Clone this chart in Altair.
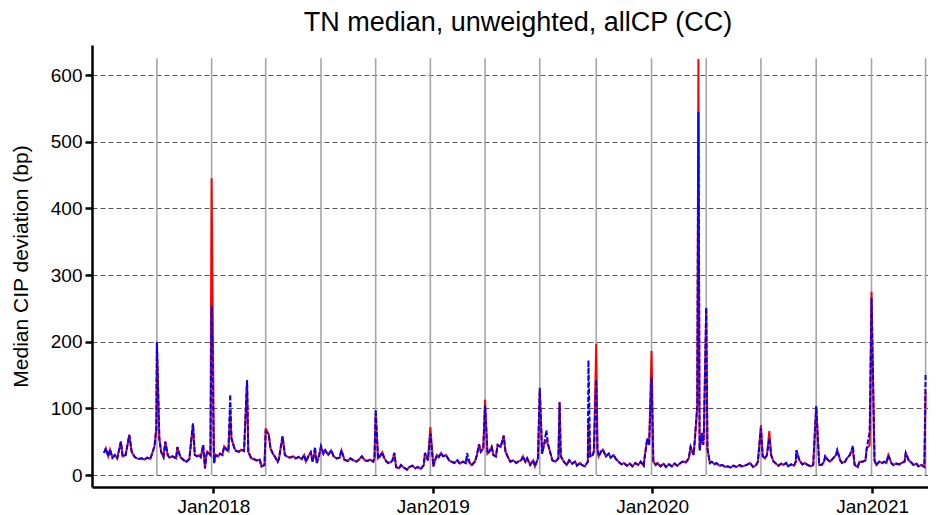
import altair as alt
import pandas as pd

# ---- series (red = solid line) ----
dates = [
    "2017-07-03", "2017-07-06", "2017-07-10", "2017-07-13", "2017-07-17", "2017-07-21", "2017-07-25", "2017-07-31",
    "2017-08-03", "2017-08-08", "2017-08-14", "2017-08-18", "2017-08-23", "2017-08-29", "2017-09-04", "2017-09-08",
    "2017-09-13", "2017-09-18", "2017-09-25", "2017-09-28", "2017-09-29",
    "2017-10-03", "2017-10-06", "2017-10-10", "2017-10-13", "2017-10-17", "2017-10-20", "2017-10-25", "2017-10-31",
    "2017-11-02", "2017-11-07", "2017-11-13", "2017-11-17", "2017-11-22", "2017-11-28", "2017-12-01", "2017-12-05",
    "2017-12-08", "2017-12-11", "2017-12-15", "2017-12-18", "2017-12-20", "2017-12-22", "2017-12-27", "2017-12-29",
    "2018-01-02", "2018-01-05", "2018-01-09", "2018-01-12", "2018-01-16", "2018-01-19", "2018-01-23", "2018-01-26",
    "2018-01-29", "2018-01-31", "2018-02-05", "2018-02-08", "2018-02-13", "2018-02-16", "2018-02-21", "2018-02-26",
    "2018-02-28", "2018-03-05", "2018-03-09", "2018-03-14", "2018-03-19", "2018-03-22", "2018-03-27", "2018-03-29",
    "2018-04-03", "2018-04-06", "2018-04-10", "2018-04-13", "2018-04-18", "2018-04-20", "2018-04-26", "2018-04-30",
    "2018-05-03", "2018-05-08", "2018-05-14", "2018-05-18", "2018-05-23", "2018-05-28", "2018-06-01", "2018-06-04",
    "2018-06-08", "2018-06-12", "2018-06-15", "2018-06-19", "2018-06-22", "2018-06-26", "2018-06-29",
    "2018-07-03", "2018-07-06", "2018-07-11", "2018-07-16", "2018-07-20", "2018-07-25", "2018-07-30", "2018-08-02",
    "2018-08-07", "2018-08-13", "2018-08-17", "2018-08-22", "2018-08-27", "2018-08-31", "2018-09-05", "2018-09-10",
    "2018-09-14", "2018-09-19", "2018-09-24", "2018-09-26", "2018-09-28",
    "2018-10-02", "2018-10-05", "2018-10-09", "2018-10-12", "2018-10-16", "2018-10-19", "2018-10-24", "2018-10-26",
    "2018-10-29", "2018-11-01", "2018-11-06", "2018-11-09", "2018-11-14", "2018-11-19", "2018-11-23", "2018-11-28",
    "2018-12-03", "2018-12-07", "2018-12-12", "2018-12-17", "2018-12-19", "2018-12-24", "2018-12-28",
    "2019-01-02", "2019-01-04", "2019-01-08", "2019-01-11", "2019-01-15", "2019-01-18", "2019-01-23", "2019-01-28",
    "2019-02-01", "2019-02-06", "2019-02-11", "2019-02-15", "2019-02-20", "2019-02-25", "2019-02-27", "2019-03-04",
    "2019-03-07", "2019-03-12", "2019-03-15", "2019-03-19", "2019-03-22", "2019-03-26", "2019-03-29",
    "2019-04-02", "2019-04-05", "2019-04-09", "2019-04-12", "2019-04-16", "2019-04-19", "2019-04-24", "2019-04-29",
    "2019-05-02", "2019-05-07", "2019-05-10", "2019-05-15", "2019-05-20", "2019-05-23", "2019-05-28", "2019-05-31",
    "2019-06-04", "2019-06-07", "2019-06-12", "2019-06-17", "2019-06-20", "2019-06-25", "2019-06-28",
    "2019-07-02", "2019-07-05", "2019-07-09", "2019-07-12", "2019-07-16", "2019-07-19", "2019-07-24", "2019-07-29",
    "2019-07-31", "2019-08-02", "2019-08-07", "2019-08-12", "2019-08-16", "2019-08-21", "2019-08-26", "2019-08-29",
    "2019-09-03", "2019-09-06", "2019-09-11", "2019-09-16", "2019-09-17", "2019-09-20", "2019-09-24", "2019-09-26",
    "2019-09-30",
    "2019-10-02", "2019-10-04", "2019-10-08", "2019-10-11", "2019-10-16", "2019-10-21", "2019-10-24", "2019-10-29",
    "2019-11-01", "2019-11-06", "2019-11-11", "2019-11-15", "2019-11-20", "2019-11-25", "2019-11-29", "2019-12-04",
    "2019-12-09", "2019-12-13", "2019-12-18", "2019-12-20", "2019-12-24", "2019-12-27", "2019-12-31",
    "2020-01-03", "2020-01-07", "2020-01-10", "2020-01-15", "2020-01-20", "2020-01-24", "2020-01-29", "2020-02-03",
    "2020-02-07", "2020-02-12", "2020-02-17", "2020-02-21", "2020-02-26", "2020-03-02", "2020-03-05", "2020-03-10",
    "2020-03-12", "2020-03-16", "2020-03-18", "2020-03-20", "2020-03-24", "2020-03-26", "2020-03-27", "2020-03-31",
    "2020-04-02", "2020-04-06", "2020-04-09", "2020-04-14", "2020-04-17", "2020-04-22", "2020-04-27", "2020-05-01",
    "2020-05-06", "2020-05-11", "2020-05-15", "2020-05-20", "2020-05-26", "2020-05-29", "2020-06-03", "2020-06-08",
    "2020-06-12", "2020-06-17", "2020-06-22", "2020-06-25", "2020-06-30",
    "2020-07-03", "2020-07-07", "2020-07-10", "2020-07-14", "2020-07-17", "2020-07-21", "2020-07-24", "2020-07-29",
    "2020-08-03", "2020-08-06", "2020-08-11", "2020-08-14", "2020-08-19", "2020-08-24", "2020-08-27", "2020-08-28",
    "2020-09-02", "2020-09-07", "2020-09-11", "2020-09-16", "2020-09-21", "2020-09-25", "2020-09-30",
    "2020-10-05", "2020-10-09", "2020-10-13", "2020-10-15", "2020-10-20", "2020-10-23", "2020-10-28", "2020-11-02",
    "2020-11-04", "2020-11-09", "2020-11-12", "2020-11-17", "2020-11-20", "2020-11-25", "2020-11-27", "2020-11-30",
    "2020-12-03", "2020-12-08", "2020-12-11", "2020-12-16", "2020-12-21", "2020-12-23", "2020-12-28", "2020-12-31",
    "2021-01-05", "2021-01-08", "2021-01-13", "2021-01-18", "2021-01-21", "2021-01-25", "2021-01-28", "2021-02-02",
    "2021-02-05", "2021-02-10", "2021-02-15", "2021-02-19", "2021-02-24", "2021-02-26", "2021-03-03", "2021-03-08",
    "2021-03-11", "2021-03-16", "2021-03-19", "2021-03-24", "2021-03-29", "2021-03-31",
]

red = [
    33, 40, 28, 38, 26, 30, 25, 50,
    28, 30, 60, 35, 27, 24, 25, 23,
    26, 24, 43, 70, 199,
    55, 35, 27, 50, 30, 26, 28, 25,
    42, 27, 22, 20, 24, 77, 30, 28,
    30, 27, 45, 10, 28, 35, 30, 445,
    18, 30, 28, 32, 30, 43, 38, 36,
    95, 55, 40, 36, 35, 38, 36, 142,
    35, 25, 24, 22, 23, 13, 15, 70,
    61, 40, 32, 28, 20, 24, 58, 30,
    28, 26, 28, 25, 27, 24, 30, 20,
    28, 34, 20, 35, 18, 30, 43,
    32, 37, 30, 37, 28, 25, 26, 37,
    23, 21, 25, 22, 20, 23, 28, 22,
    21, 23, 20, 25, 92,
    25, 28, 34, 26, 20, 18, 20, 22,
    33, 12, 10, 15, 11, 8, 12, 14,
    10, 12, 9, 15, 33, 22, 72,
    13, 20, 30, 27, 33, 28, 30, 22,
    20, 18, 22, 17, 20, 18, 25, 17,
    15, 20, 28, 46, 35, 40, 113,
    32, 35, 42, 30, 28, 45, 42, 59,
    35, 25, 20, 22, 18, 20, 22, 28,
    20, 25, 15, 22, 13, 25, 127,
    32, 45, 52, 45, 32, 22, 20, 25,
    109, 28, 20, 15, 22, 17, 20, 14,
    18, 15, 13, 20, 80, 28, 30, 35,
    197,
    40, 28, 35, 38, 28, 32, 26, 30,
    25, 20, 16, 18, 14, 17, 13, 18,
    15, 20, 14, 30, 55, 45, 186,
    20, 15, 18, 13, 17, 12, 16, 13,
    17, 14, 18, 20, 19, 25, 42, 30,
    52, 102, 624, 37, 63, 45, 60, 251,
    40, 18, 20, 16, 18, 14, 15, 12,
    13, 11, 14, 12, 15, 13, 14, 16,
    18, 12, 15, 20, 75,
    28, 25, 30, 66, 30, 20, 18, 14,
    17, 15, 18, 13, 16, 14, 20, 37,
    22, 16, 18, 15, 13, 15, 103,
    15, 15, 20, 28, 22, 20, 25, 30,
    37, 22, 18, 20, 25, 30, 35, 35,
    15, 12, 20, 20, 22, 40, 45, 275,
    22, 15, 20, 18, 20, 18, 30, 18,
    15, 17, 16, 18, 20, 33, 22, 18,
    15, 17, 13, 15, 12, 125,
]

# blue (dashed) series equals the red one except on these dates
blue_dates = [
    "2017-12-29", "2018-01-29", "2018-03-29", "2018-06-19", "2018-09-28", "2018-12-28", "2019-02-27",
    "2019-03-29", "2019-06-28", "2019-07-09", "2019-09-17", "2019-09-30", "2019-12-31", "2020-03-18",
    "2020-06-30", "2020-07-14", "2020-11-30", "2020-12-28", "2020-12-31", "2021-03-31",
]
blue_vals = [254, 121, 65, 42, 98, 62, 33, 104, 131, 67, 172, 143, 147, 545, 70, 55, 44, 65, 266, 152]

quarter_ends = [
    "2017-09-29", "2017-12-29", "2018-03-29", "2018-06-29", "2018-09-28", "2018-12-28", "2019-03-29",
    "2019-06-28", "2019-09-30", "2019-12-31", "2020-03-31", "2020-06-30", "2020-09-30", "2020-12-31",
    "2021-03-31",
]
y_ticks = [0, 100, 200, 300, 400, 500, 600]
x_tick_years = [2018, 2019, 2020, 2021]

FONT = "Liberation Sans"

blue_map = dict(zip(blue_dates, blue_vals))
df_red = pd.DataFrame({"date": dates, "value": red})
df_blue = pd.DataFrame({"date": dates, "value": [blue_map.get(d, v) for d, v in zip(dates, red)]})
df_q = pd.DataFrame({"date": quarter_ends, "y0": 0, "y1": max(red) + 1})

x_scale = alt.Scale(
    type="utc",
    domain=[alt.DateTime(year=2017, month=6, date=13, utc=True),
            alt.DateTime(year=2021, month=4, date=4, utc=True)],
)
y_scale = alt.Scale(domain=[-18, 645], nice=False, zero=False)

x_axis = alt.Axis(
    values=[alt.DateTime(year=y, month=1, date=1, utc=True) for y in x_tick_years],
    labelExpr="utcFormat(datum.value, '%b%Y')",
    grid=False, domainColor="black", domainWidth=2.5, tickColor="black", tickWidth=2.5,
    tickSize=6, labelFontSize=19, labelFont=FONT, labelColor="black", labelPadding=4,
    labelFlush=False, labelOverlap=False, title=None,
)
y_axis = alt.Axis(
    values=y_ticks, grid=True, gridDash=[5, 3], gridColor="#555555", gridWidth=1,
    domainColor="black", domainWidth=2.5, tickColor="black", tickWidth=2.5, tickSize=7,
    labelFontSize=19, labelFont=FONT, labelColor="black", labelPadding=3,
    title="Median CIP deviation (bp)", titleFontSize=21, titleFont=FONT,
    titleFontWeight="normal", titleColor="black", titlePadding=19,
)

rules = alt.Chart(df_q).mark_rule(color="#a6a6a6", strokeWidth=1.6).encode(
    x=alt.X("date:T", scale=x_scale, axis=x_axis),
    y=alt.Y("y0:Q", scale=y_scale, axis=y_axis),
    y2="y1:Q",
)
red_line = alt.Chart(df_red).mark_line(color="#ff0000", strokeWidth=2).encode(
    x=alt.X("date:T", scale=x_scale),
    y=alt.Y("value:Q", scale=y_scale),
)
blue_line = alt.Chart(df_blue).mark_line(color="#0000ff", strokeWidth=2, strokeDash=[5, 2]).encode(
    x=alt.X("date:T", scale=x_scale),
    y=alt.Y("value:Q", scale=y_scale),
)

chart = alt.layer(rules, red_line, blue_line).properties(
    width=836,
    height=442,
    autosize=alt.AutoSizeParams(type="none"),
    padding={"left": 84, "top": 37, "right": 0, "bottom": 30},
    title=alt.Title("TN median, unweighted, allCP (CC)", fontSize=27, font=FONT,
                    fontWeight="normal", color="black", anchor="middle", offset=8, dx=8),
).configure_view(strokeWidth=0)

chart.save("out.html", embed_options={"renderer": "svg", "actions": False})
